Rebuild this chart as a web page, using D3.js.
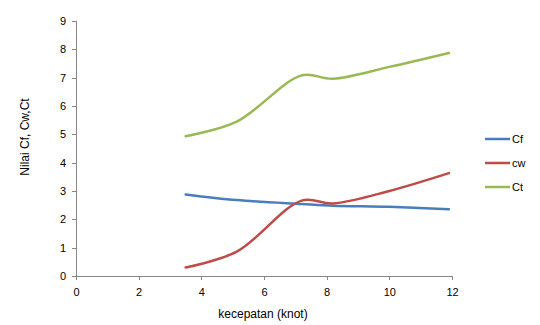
<!DOCTYPE html>
<html><head><meta charset="utf-8">
<script src="https://cdn.jsdelivr.net/npm/d3@7"></script>
<style>body{margin:0;background:#fff}svg{display:block}text{font-family:"Liberation Sans",Arial,sans-serif;fill:#000}</style>
</head><body><svg id="c" width="540" height="325"></svg>
<script>
const speed = [3.5, 5.13, 7.2, 8.2, 10, 11.9];
const seriesNames = ["Cf", "cw", "Ct"];
const cf = [2.88, 2.68, 2.54, 2.48, 2.44, 2.36];
const cw = [0.3, 0.86, 2.66, 2.56, 3.0, 3.63];
const ct = [4.93, 5.45, 7.08, 6.96, 7.38, 7.87];
const xTicks = [0, 2, 4, 6, 8, 10, 12];
const yTicks = [0, 1, 2, 3, 4, 5, 6, 7, 8, 9];
const colors = ["#4A7EBB", "#BE4B48", "#98B954"];

const svg = d3.select("#c");
const x = d3.scaleLinear().domain([0, 12]).range([76, 452]);
const y = d3.scaleLinear().domain([0, 9]).range([276, 21]);
const axisColor = "#868686";

const gx = svg.append("g").attr("transform", "translate(0,276)")
  .call(d3.axisBottom(x).tickValues(xTicks).tickSize(4).tickPadding(8));
const gy = svg.append("g").attr("transform", "translate(76,0)")
  .call(d3.axisLeft(y).tickValues(yTicks).tickSize(4).tickPadding(6));
[gx, gy].forEach(g => {
  g.selectAll("path,line").attr("stroke", axisColor).attr("shape-rendering", "crispEdges");
  g.selectAll("text").attr("font-size", 11).attr("fill", "#000")
   .attr("font-family", '"Liberation Sans",Arial,sans-serif');
});

const data = [cf, cw, ct];
const line = d3.line().x((d, i) => x(speed[i])).y(d => y(d)).curve(d3.curveCatmullRom.alpha(0.5));
data.forEach((s, k) => {
  svg.append("path").datum(s).attr("d", line).attr("fill", "none")
    .attr("stroke", colors[k]).attr("stroke-width", 2.5).attr("stroke-linecap", "round");
});

// legend
const lg = svg.append("g");
seriesNames.forEach((n, k) => {
  const yy = 139 + k * 24;
  lg.append("line").attr("x1", 485).attr("x2", 510).attr("y1", yy).attr("y2", yy)
    .attr("stroke", colors[k]).attr("stroke-width", 2.5);
  lg.append("text").attr("x", 512).attr("y", yy + 4).attr("font-size", 11).text(n);
});

svg.append("text").attr("transform", "translate(29,137) rotate(-90)")
  .attr("text-anchor", "middle").attr("font-size", 12).text("Nilai Cf, Cw,Ct");
svg.append("text").attr("x", 263).attr("y", 318)
  .attr("text-anchor", "middle").attr("font-size", 12).text("kecepatan (knot)");
</script></body></html>
